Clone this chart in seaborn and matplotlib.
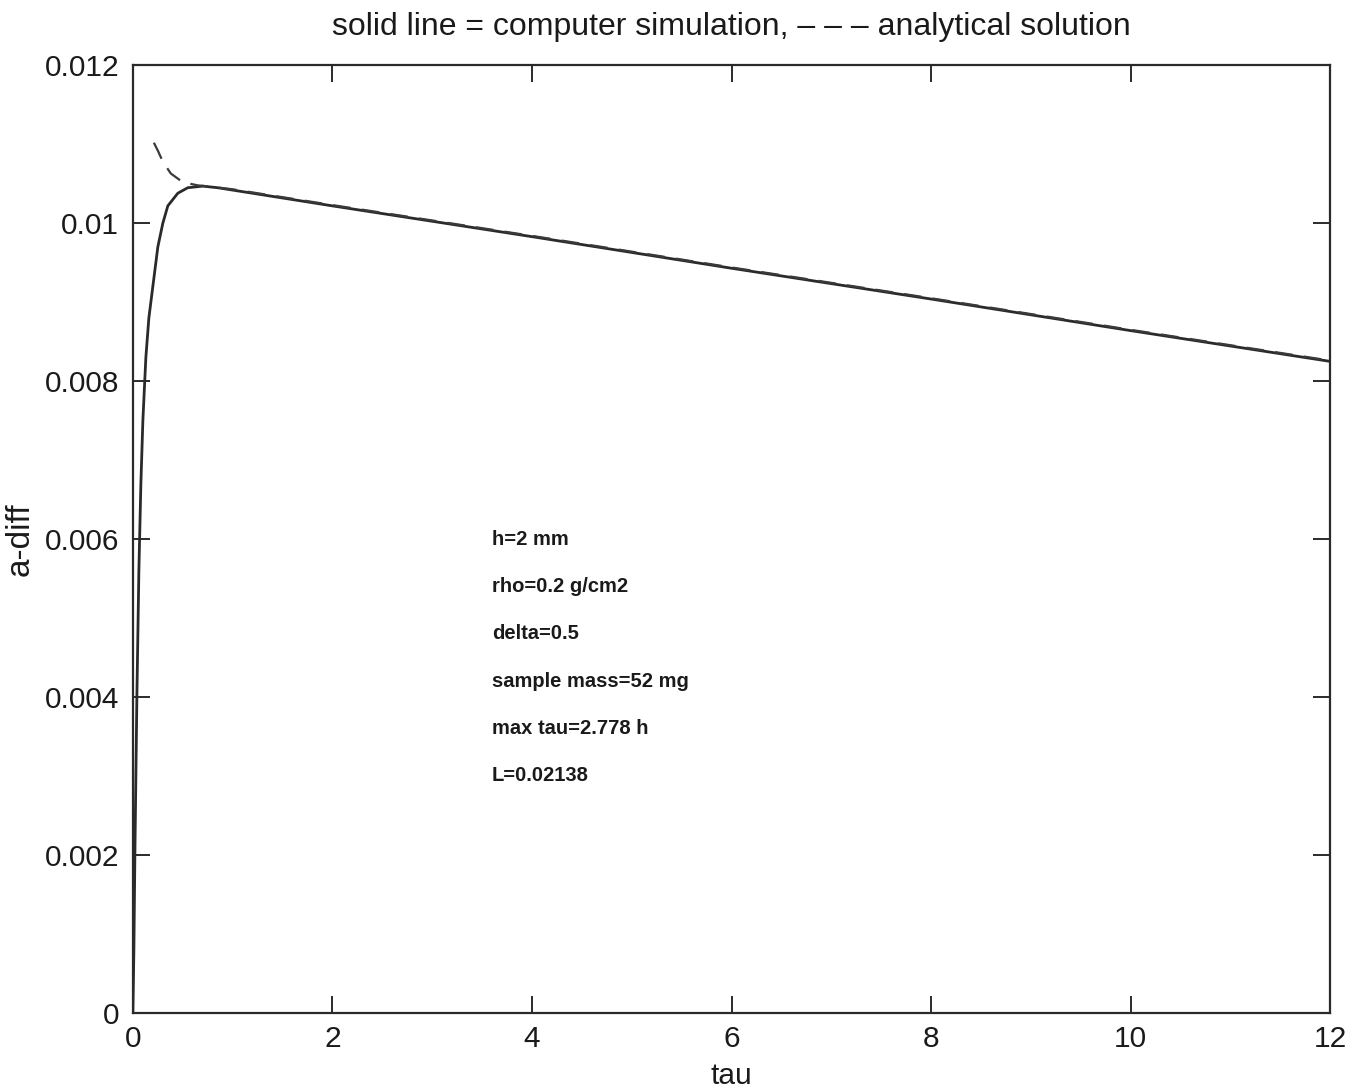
import numpy as np
import pandas as pd
import matplotlib
matplotlib.use("Agg")
import matplotlib.pyplot as plt
import seaborn as sns

# Data
tau_sim = [0.0, 0.01, 0.02, 0.04, 0.06, 0.08, 0.10, 0.13, 0.16, 0.20, 0.25, 0.30, 0.35,
           0.45, 0.55, 0.70, 0.85, 1.0, 2.0, 4.0, 6.0, 8.0, 10.0, 12.0]
adiff_sim = [0.0, 0.0008, 0.0020, 0.0040, 0.0056, 0.0067, 0.0075, 0.0083, 0.0088, 0.0092,
             0.0097, 0.0100, 0.01022, 0.01038, 0.01045, 0.01047, 0.01045, 0.01042,
             0.01022, 0.00983, 0.00943, 0.00904, 0.00864, 0.00825]

tau_ana = [0.21, 0.25, 0.30, 0.38, 0.50, 0.65, 0.80, 1.0, 2.0, 4.0, 6.0, 8.0, 10.0, 12.0]
adiff_ana = [0.01102, 0.01092, 0.01078, 0.01063, 0.01052, 0.01048, 0.01046, 0.01043,
             0.01023, 0.00984, 0.00944, 0.00905, 0.00865, 0.00826]

xticks = [0, 2, 4, 6, 8, 10, 12]
yticks = [0, 0.002, 0.004, 0.006, 0.008, 0.01, 0.012]
ytick_labels = ["0", "0.002", "0.004", "0.006", "0.008", "0.01", "0.012"]

notes = ["h=2 mm", "rho=0.2 g/cm2", "delta=0.5", "sample mass=52 mg",
         "max tau=2.778 h", "L=0.02138"]
notes_x = 3.6
notes_y = [0.0060, 0.0054, 0.0048, 0.0042, 0.0036, 0.0030]

sns.set_style("white")
plt.rcParams["font.family"] = ["Liberation Sans", "DejaVu Sans"]

fig = plt.figure(figsize=(13.7, 10.89), dpi=100)
ax = fig.add_axes([0.097, 0.070, 0.874, 0.870])

df_sim = pd.DataFrame({"tau": tau_sim, "adiff": adiff_sim})
df_ana = pd.DataFrame({"tau": tau_ana, "adiff": adiff_ana})

sns.lineplot(data=df_sim, x="tau", y="adiff", ax=ax, color="#2a2a2a", linewidth=2.0,
             estimator=None, sort=False)
sns.lineplot(data=df_ana, x="tau", y="adiff", ax=ax, color="#3a3a3a", linewidth=1.6,
             estimator=None, sort=False, dashes=False)
ax.lines[-1].set_linestyle((0, (8, 5)))

ax.set_xlim(0, 12)
ax.set_ylim(0, 0.012)
ax.set_xticks(xticks)
ax.set_xticklabels([str(t) for t in xticks])
ax.set_yticks(yticks)
ax.set_yticklabels(ytick_labels)

ax.tick_params(axis="both", which="both", direction="in", length=12, width=1.3,
               top=True, right=True, bottom=True, left=True,
               labelsize=21.5, colors="#1a1a1a", pad=10)
ax.tick_params(axis="x", pad=9)
for s in ax.spines.values():
    s.set_visible(True)
    s.set_linewidth(1.6)
    s.set_color("#2a2a2a")

ax.set_xlabel("tau", fontsize=21.5, labelpad=6, color="#1a1a1a")
ax.set_ylabel("a-diff", fontsize=24, labelpad=6, color="#1a1a1a")
ax.set_title("solid line = computer simulation, – – – analytical solution",
             fontsize=23, pad=22, color="#1a1a1a")

for txt, yy in zip(notes, notes_y):
    ax.text(notes_x, yy, txt, fontsize=14.5, fontweight="bold", ha="left",
            va="center", color="#1a1a1a")

fig.savefig("out.png", dpi=100, facecolor="white")
